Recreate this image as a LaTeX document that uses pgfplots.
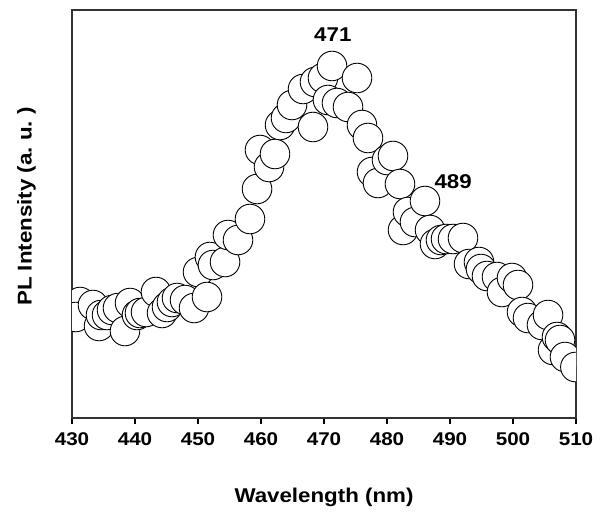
\documentclass[border=0pt]{standalone}
\usepackage{pgfplots}
\pgfplotsset{compat=1.18}
\usepackage{fontspec}
\setmainfont{Liberation Sans}
\newfontfamily\labfont[FakeStretch=1.12]{Liberation Sans}
\begin{document}
\begin{tikzpicture}
\begin{axis}[
  name=ax,
  scale only axis, width=504bp, height=408bp,
  xmin=430, xmax=510, ymin=0, ymax=408,
  xtick={430,440,...,510}, ytick=\empty,
  tick align=outside, xtick pos=bottom, major tick length=6bp,
  x tick style={line width=1.2bp, black},
  axis line style={line width=1.3bp, draw=black!80},
  clip marker paths=true,
  /pgf/number format/assume math mode=true,
  /pgf/number format/1000 sep={},
  xticklabel style={font=\labfont\bfseries\fontsize{18.5}{18.5}\selectfont, yshift=-5bp},
  xlabel={Wavelength (nm)},
  ylabel={PL Intensity (a.\ u.\ )},
  xlabel style={font=\labfont\bfseries\fontsize{20}{20}\selectfont, at={(axis description cs:0.5,-0.208)}, anchor=base},
  ylabel style={font=\labfont\bfseries\fontsize{20}{20}\selectfont, at={(axis description cs:-0.065,0.518)}, anchor=south},
]
\addplot[only marks, mark=*, mark size=14.8bp,
  mark options={fill=white, draw=black, line width=0.9bp}] coordinates {
(431.27,116) (430.6,101) (433.33,113) (434.29,92) (434.60,103) (435.56,103)
(436.35,108) (437.30,110) (438.41,87) (439.21,115) (440.32,103) (440.79,105)
(441.75,106) (443.33,126) (444.29,105) (445.08,111) (445.87,116) (446.67,120)
(447.94,118) (449.37,110) (450.00,146) (451.43,121) (451.90,161) (452.38,153)
(454.29,156) (454.76,183) (456.35,178) (458.25,199) (459.37,229) (459.84,268)
(461.27,251) (462.22,264) (463.02,293) (463.97,300) (464.92,313) (466.67,329)
(468.25,291) (468.57,336) (469.84,340) (470.63,318) (471.27,352) (472.06,315)
(473.81,311) (475.24,340) (476.03,293) (476.98,280) (477.62,246) (478.57,235)
(480.00,258) (480.95,262) (482.06,234) (482.54,188) (483.33,206) (484.44,196)
(486.03,217) (486.83,188) (487.62,174) (488.57,178) (489.37,179) (490.48,179)
(492.06,180) (493.02,154) (494.60,156) (494.92,149) (495.87,142) (497.46,141)
(498.25,126) (499.84,140) (500.79,133) (501.43,106) (502.38,100) (504.60,93)
(505.56,103) (506.35,68) (506.98,81) (507.46,78) (508.25,61) (509.9,51)
};
\node[font=\labfont\bfseries\fontsize{20}{20}\selectfont] at (axis cs:471.4,383) {471};
\node[font=\labfont\bfseries\fontsize{20}{20}\selectfont] at (axis cs:490.5,236) {489};
\end{axis}
\path[use as bounding box] ([xshift=-72bp,yshift=-93bp]ax.south west) rectangle ([xshift=26bp,yshift=10bp]ax.north east);
\end{tikzpicture}
\end{document}
